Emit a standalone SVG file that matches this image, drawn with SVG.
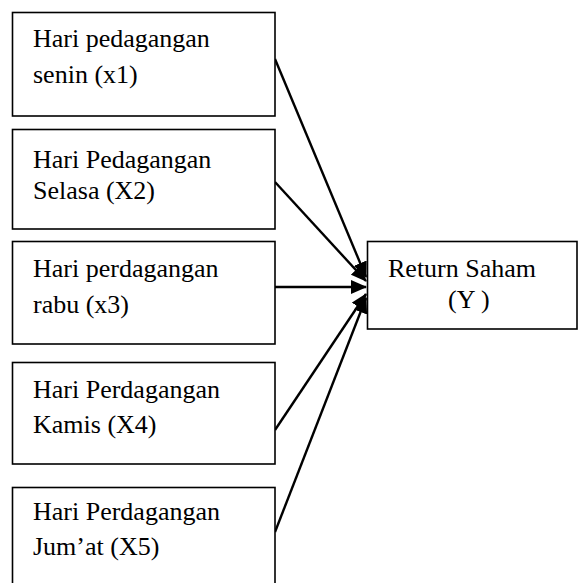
<svg xmlns="http://www.w3.org/2000/svg" width="579" height="583" viewBox="0 0 579 583">
<style>
.box{fill:#fff;stroke:#000;stroke-width:1.6}
.t{font-family:'Liberation Serif','Times New Roman',serif;font-size:26px;fill:#000}
.c{stroke:#000;stroke-width:2.4;fill:none}
</style>
<defs>
<marker id="ah" viewBox="0 0 16 14" refX="15" refY="7" markerWidth="16" markerHeight="14" markerUnits="userSpaceOnUse" orient="auto">
<path d="M0,0 L16,7 L0,14 z" fill="#000"/>
</marker>
</defs>
<rect width="579" height="583" fill="#fff"/>
<g id="connectors">
<line class="c" x1="275" y1="59" x2="366" y2="277" marker-end="url(#ah)"/>
<line class="c" x1="275" y1="182" x2="366" y2="281" marker-end="url(#ah)"/>
<line class="c" x1="275" y1="287" x2="366" y2="287" marker-end="url(#ah)"/>
<line class="c" x1="275" y1="430" x2="366" y2="294" marker-end="url(#ah)"/>
<line class="c" x1="275" y1="532" x2="366" y2="298" marker-end="url(#ah)"/>
</g>
<g id="x1">
<rect class="box" x="12.5" y="12.5" width="262.5" height="103.5"/>
<text class="t" x="33" y="47">Hari pedagangan</text>
<text class="t" x="33" y="83">senin (x1)</text>
</g>
<g id="x2">
<rect class="box" x="12.5" y="129.5" width="262.5" height="99.5"/>
<text class="t" x="33" y="168">Hari Pedagangan</text>
<text class="t" x="33" y="199">Selasa (X2)</text>
</g>
<g id="x3">
<rect class="box" x="12.5" y="241.5" width="262.5" height="102.5"/>
<text class="t" x="33" y="277">Hari perdagangan</text>
<text class="t" x="33" y="313">rabu (x3)</text>
</g>
<g id="x4">
<rect class="box" x="12.5" y="362.5" width="262.5" height="101.5"/>
<text class="t" x="33" y="398">Hari Perdagangan</text>
<text class="t" x="33" y="433">Kamis (X4)</text>
</g>
<g id="x5">
<rect class="box" x="12.5" y="487.5" width="262.5" height="110"/>
<text class="t" x="33" y="520">Hari Perdagangan</text>
<text class="t" x="33" y="555">Jum’at (X5)</text>
</g>
<g id="y">
<rect class="box" x="367.5" y="241.5" width="209.5" height="87.5"/>
<text class="t" x="388" y="277">Return Saham</text>
<text class="t" x="448" y="308">(Y )</text>
</g>
</svg>
